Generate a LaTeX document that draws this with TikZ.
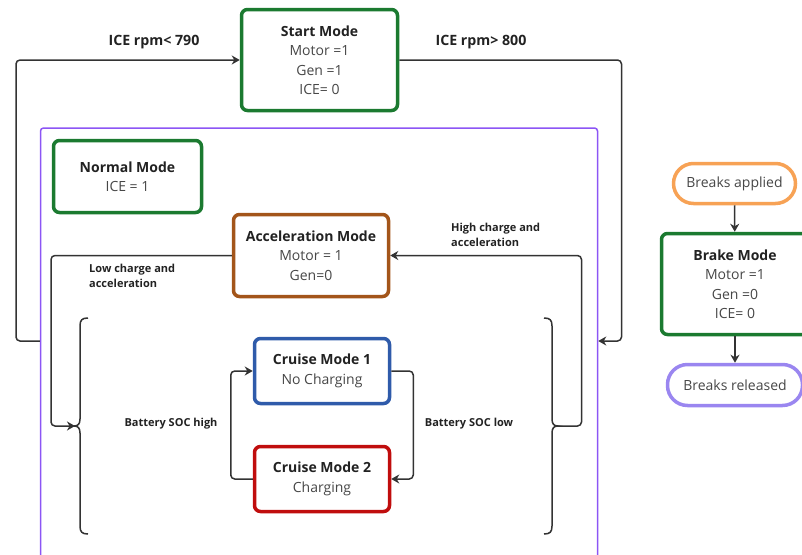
\documentclass[tikz,border=0pt]{standalone}
\usepackage{fontspec}
\setmainfont{Open Sans}
\usetikzlibrary{arrows.meta}
\definecolor{modegreen}{HTML}{1B7A30}
\definecolor{modeblue}{HTML}{2F5BAA}
\definecolor{modered}{HTML}{C00D0D}
\definecolor{modebrown}{HTML}{A3551A}
\definecolor{pillorange}{HTML}{F7A255}
\definecolor{pillpurple}{HTML}{9A86F0}
\definecolor{groupviolet}{HTML}{8C55F5}
\definecolor{linegray}{HTML}{333333}
\definecolor{titleink}{HTML}{222222}
\definecolor{bodyink}{HTML}{474747}
\newcommand\modetitle[1]{{\color{titleink}\bfseries #1}}
\tikzset{
  modebox/.style={draw, line width=3.5pt, rounded corners=6pt, fill=white,
    align=center, inner sep=0pt, text=bodyink,
    font=\fontsize{14}{19.5}\selectfont},
  pill/.style={draw, line width=3.5pt, rounded corners=20pt, fill=white,
    align=center, inner sep=0pt, text=bodyink,
    font=\fontsize{14}{16}\selectfont},
  conn/.style={draw=linegray, line width=1.5pt, rounded corners=4pt,
    -{Stealth[length=8pt,width=9pt,inset=2.5pt]}},
  plainline/.style={draw=linegray, line width=1.5pt},
  cond/.style={font=\bfseries\fontsize{14.2}{16}\selectfont, text=titleink, inner sep=0pt},
  smallcond/.style={font=\bfseries\fontsize{11}{15}\selectfont, text=titleink,
    inner sep=0pt, align=left},
}
\begin{document}
\begin{tikzpicture}[x=1pt,y=-1pt]
\useasboundingbox (0,0) rectangle (802,554);

% group frame holding the driving modes
\node (cont) [draw=groupviolet, line width=1.5pt, rounded corners=3pt,
  minimum width=557pt, minimum height=438pt, inner sep=0pt] at (319,347) {};

% mode boxes
\node (start) [modebox, draw=modegreen, minimum width=156pt, minimum height=101pt]
  at (319.5,60) {\modetitle{Start Mode}\\Motor =1\\Gen =1\\ICE= 0};
\node (normal) [modebox, draw=modegreen, minimum width=148pt, minimum height=72pt]
  at (127.5,176.5) {\modetitle{Normal Mode}\\ICE = 1};
\node (accel) [modebox, draw=modebrown, minimum width=155pt, minimum height=82pt]
  at (311,255.5) {\modetitle{Acceleration Mode}\\Motor = 1\\Gen=0};
\node (cm1) [modebox, draw=modeblue, minimum width=135pt, minimum height=65pt]
  at (322,371) {\modetitle{Cruise Mode 1}\\No Charging};
\node (cm2) [modebox, draw=modered, minimum width=135pt, minimum height=65pt]
  at (322,479) {\modetitle{Cruise Mode 2}\\Charging};
\node (brake) [modebox, draw=modegreen, minimum width=147pt, minimum height=101pt]
  at (735,284) {\modetitle{Brake Mode}\\Motor =1\\Gen =0\\ICE= 0};
\node (applied) [pill, draw=pillorange, minimum width=122pt, minimum height=40pt]
  at (734.5,183.5) {Breaks applied};
\node (released) [pill, draw=pillpurple, minimum width=135pt, minimum height=41pt]
  at (735,385) {Breaks released};

% braces around the cruise modes
\coordinate (lbt) at (74,426);
\coordinate (rbt) at (558,426);
\draw[plainline] (88,318) .. controls (82,318) and (80,320) .. (80,326) -- (80,419)
  .. controls (80,424) and (78,426) .. (lbt)
  .. controls (78,426) and (80,428) .. (80,433) -- (80,526)
  .. controls (80,532) and (82,534) .. (88,534);
\draw[plainline] (544,318) .. controls (550,318) and (552,320) .. (552,326) -- (552,419)
  .. controls (552,424) and (554,426) .. (rbt)
  .. controls (554,426) and (552,428) .. (552,433) -- (552,526)
  .. controls (552,532) and (550,534) .. (544,534);

% connectors
\coordinate (lx) at (16,341);
\coordinate (rx) at (621.5,341);
\coordinate (la) at (51,426);
\coordinate (ra) at (581.5,426);
\draw[conn] ([yshift=6pt]cont.west) -- (lx) |- (start.west);
\draw[conn] (start.east) -| (rx) -- ([yshift=6pt]cont.east);
\draw[conn] (accel.west) -| (la) -- ([xshift=1pt]lbt);
\draw[conn] (rbt) -- (ra) |- (accel.east);
\draw[conn] (cm2.west) -- ++(-22,0) |- (cm1.west);
\draw[conn] (cm1.east) -- ++(22,0) |- (cm2.east);
\draw[conn] (applied) -- (brake);
\draw[conn] (brake) -- (released);

% conditions
\node[cond] at (154,42) {ICE rpm< 790};
\node[cond] at (481,42) {ICE rpm> 800};
\node[smallcond, anchor=west] at (89,275.5) {Low charge and\\acceleration};
\node[smallcond, anchor=west] at (451,234.5) {High charge and\\acceleration};
\node[smallcond] at (171,424) {Battery SOC high};
\node[smallcond] at (469,424) {Battery SOC low};
\end{tikzpicture}
\end{document}
